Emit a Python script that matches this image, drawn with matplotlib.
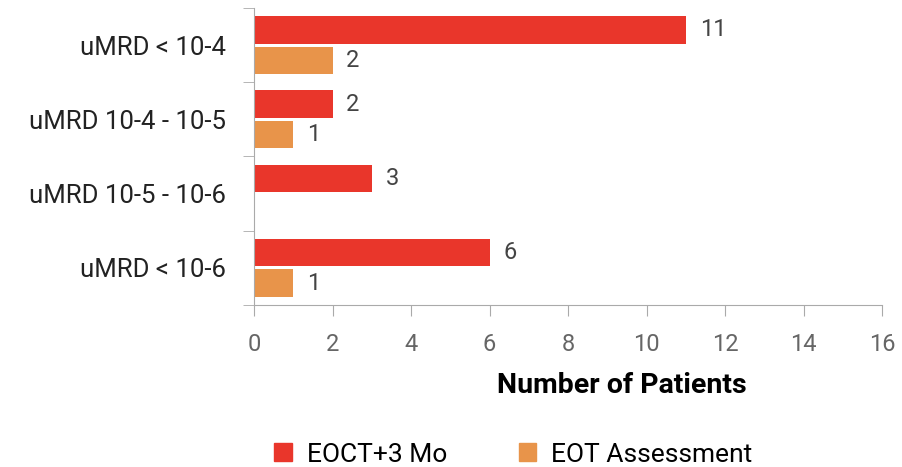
import matplotlib.pyplot as plt
from matplotlib.patches import Patch

categories = ['uMRD < 10-4', 'uMRD 10-4 - 10-5', 'uMRD 10-5 - 10-6', 'uMRD < 10-6']
eoct_3mo = [11, 2, 3, 6]
eot = [2, 1, None, 1]
x_ticks = [0, 2, 4, 6, 8, 10, 12, 14, 16]

red = '#E9362B'
orange = '#E8944A'
grey = '#AAAAAA'

plt.rcParams['font.family'] = ['Roboto', 'DejaVu Sans']

fig = plt.figure(figsize=(9.02, 4.67), dpi=100)
ax = fig.add_axes([0.2816, 0.347, 0.6964, 0.636])

pos = list(range(len(categories)))
off = 0.205
h = 0.37
for i, v in enumerate(eoct_3mo):
    ax.barh(i - off, v, height=h, color=red)
    ax.text(v + 0.35, i - off, str(v), va='center', ha='left', fontsize=17, color='#444444')
for i, v in enumerate(eot):
    if v is None:
        continue
    ax.barh(i + off, v, height=h, color=orange)
    ax.text(v + 0.35, i + off, str(v), va='center', ha='left', fontsize=17, color='#444444')

ax.set_xlim(0, 16)
ax.set_ylim(len(categories) - 0.5, -0.5)
ax.set_xticks(x_ticks)
ax.set_xticklabels([str(t) for t in x_ticks], fontsize=17, color='#666666')
ax.tick_params(axis='x', length=8, color=grey, pad=12)

ax.set_yticks(pos)
ax.set_yticklabels(categories, fontsize=18.5, color='#222222')
ax.set_yticks([p - 0.5 for p in pos] + [len(pos) - 0.5], minor=True)
ax.tick_params(axis='y', which='major', length=0, pad=20)
ax.tick_params(axis='y', which='minor', length=8, color=grey)

for s in ['top', 'right']:
    ax.spines[s].set_visible(False)
for s in ['left', 'bottom']:
    ax.spines[s].set_color(grey)

ax.set_xlabel('Number of Patients', fontsize=20.5, fontweight='bold')
ax.xaxis.set_label_coords(0.586, -0.225)

handles = [Patch(color=red, label='EOCT+3 Mo'), Patch(color=orange, label='EOT Assessment')]
fig.legend(handles=handles, loc='lower center', bbox_to_anchor=(0.5693, -0.05), ncol=2,
           frameon=False, fontsize=19, handlelength=0.67, handleheight=0.67,
           handletextpad=0.57, columnspacing=2.7)

fig.savefig('out.png', dpi=100)
